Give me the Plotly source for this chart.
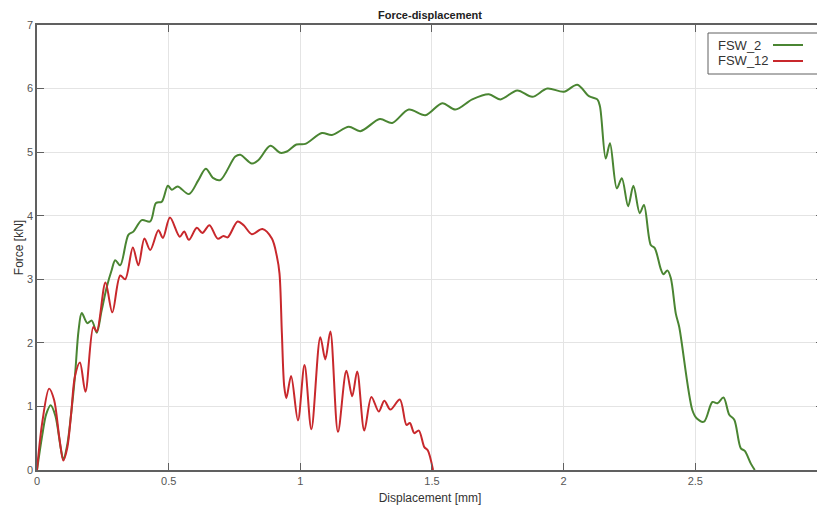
import plotly.graph_objects as go

# FSW_2 (green) force-displacement readings
fsw2_x = [0, 0.02, 0.035, 0.052, 0.07, 0.09, 0.10, 0.115, 0.13, 0.144, 0.158, 0.17, 0.191, 0.208, 0.227,
          0.245, 0.265, 0.284, 0.297, 0.316, 0.347, 0.366, 0.398, 0.43, 0.452, 0.474, 0.497, 0.512, 0.534,
          0.577, 0.613, 0.641, 0.67, 0.696, 0.753, 0.772, 0.816, 0.842, 0.886, 0.924, 0.949, 0.985, 1.019,
          1.082, 1.12, 1.184, 1.228, 1.302, 1.349, 1.412, 1.475, 1.539, 1.589, 1.653, 1.716, 1.76, 1.824,
          1.881, 1.938, 2.001, 2.052, 2.096, 2.128, 2.138, 2.16, 2.176, 2.202, 2.221, 2.245, 2.265, 2.289,
          2.305, 2.331, 2.346, 2.369, 2.379, 2.394, 2.407, 2.426, 2.439, 2.489, 2.506, 2.533, 2.565, 2.584,
          2.607, 2.629, 2.648, 2.673, 2.688, 2.711, 2.726]
fsw2_y = [0, 0.55, 0.88, 1.02, 0.85, 0.35, 0.17, 0.4, 0.9, 1.47, 2.2, 2.47, 2.31, 2.35, 2.16,
          2.5, 2.88, 3.15, 3.30, 3.22, 3.70, 3.75, 3.93, 3.91, 4.20, 4.22, 4.47, 4.41, 4.46,
          4.34, 4.56, 4.74, 4.59, 4.56, 4.93, 4.96, 4.82, 4.88, 5.10, 4.99, 5.01, 5.12, 5.13,
          5.30, 5.27, 5.40, 5.33, 5.52, 5.46, 5.67, 5.58, 5.77, 5.67, 5.83, 5.91, 5.83, 5.97,
          5.87, 6.00, 5.95, 6.06, 5.88, 5.83, 5.72, 4.90, 5.14, 4.43, 4.59, 4.15, 4.47, 4.04,
          4.17, 3.54, 3.49, 3.16, 3.08, 3.14, 3.02, 2.46, 2.25, 0.94, 0.81, 0.76, 1.07, 1.05,
          1.14, 0.87, 0.79, 0.34, 0.30, 0.10, 0.0]

# FSW_12 (red) force-displacement readings
fsw12_x = [0, 0.02, 0.046, 0.065, 0.085, 0.10, 0.115, 0.13, 0.144, 0.163, 0.184, 0.214, 0.227, 0.26,
           0.286, 0.316, 0.335, 0.364, 0.385, 0.408, 0.43, 0.461, 0.478, 0.505, 0.542, 0.559, 0.577,
           0.607, 0.628, 0.655, 0.686, 0.708, 0.724, 0.762, 0.785, 0.816, 0.856, 0.892, 0.911, 0.921,
           0.93, 0.939, 0.947, 0.965, 0.991, 1.016, 1.042, 1.076, 1.095, 1.114, 1.143, 1.175, 1.197,
           1.216, 1.243, 1.27, 1.298, 1.319, 1.342, 1.378, 1.403, 1.416, 1.433, 1.45, 1.471, 1.484, 1.504]
fsw12_y = [0, 0.75, 1.28, 1.1, 0.5, 0.15, 0.35, 0.9, 1.47, 1.69, 1.23, 2.25, 2.18, 2.95,
           2.48, 3.06, 3.00, 3.50, 3.22, 3.64, 3.46, 3.77, 3.65, 3.97, 3.67, 3.75, 3.62,
           3.81, 3.73, 3.85, 3.64, 3.68, 3.66, 3.91, 3.85, 3.71, 3.79, 3.64, 3.36, 3.09,
           2.15, 1.31, 1.13, 1.48, 0.78, 1.65, 0.64, 2.09, 1.74, 2.18, 0.60, 1.56, 1.16,
           1.55, 0.62, 1.15, 0.92, 1.09, 0.95, 1.11, 0.71, 0.74, 0.58, 0.62, 0.36, 0.31, 0.0]

x_ticks = [0, 0.5, 1, 1.5, 2, 2.5]
x_tick_labels = ["0", "0.5", "1", "1.5", "2", "2.5"]
y_ticks = [0, 1, 2, 3, 4, 5, 6, 7]

GREEN = "#4a8532"
RED = "#c8282c"
FONT = "Liberation Sans, Arial, sans-serif"

# page has an 8px body margin: figure sized to fit the 825x506 window
W, H = 817, 498
OFF = 8
L, R, T, B = 37 - OFF, 2, 25 - OFF, H - (470 - OFF)
PW = W - L - R
PH = H - T - B

fig = go.Figure()
fig.add_trace(go.Scatter(x=fsw2_x, y=fsw2_y, mode="lines", name="FSW_2",
                         line=dict(color=GREEN, width=2, shape="spline", smoothing=0.9)))
fig.add_trace(go.Scatter(x=fsw12_x, y=fsw12_y, mode="lines", name="FSW_12",
                         line=dict(color=RED, width=2, shape="spline", smoothing=0.9)))

axis_common = dict(showline=True, linecolor="#606060", linewidth=1.5, mirror="ticks",
                   ticks="inside", ticklen=7, tickcolor="#606060", tickwidth=1,
                   showgrid=True, gridcolor="#e4e4e4", gridwidth=1, zeroline=False,
                   automargin=False,
                   tickfont=dict(family=FONT, size=11, color="#555555"))

fig.update_xaxes(range=[0, 2.985], tickvals=x_ticks, ticktext=x_tick_labels,
                 title=dict(text="Displacement [mm]", font=dict(family=FONT, size=12, color="#333333"),
                            standoff=8),
                 **axis_common)
fig.update_yaxes(range=[0, 7], tickvals=y_ticks,
                 title=dict(text="Force [kN]", font=dict(family=FONT, size=12, color="#333333"),
                            standoff=1),
                 **axis_common)


def px_x(page_x):
    return (page_x - 37) / PW


def px_y(page_y):
    return 1 - (page_y - 25) / PH


# custom legend (text left, line sample right)
shapes = [dict(type="rect", xref="paper", yref="paper", x0=px_x(708), x1=px_x(820),
               y0=px_y(74), y1=px_y(33),
               line=dict(color="#606060", width=1), fillcolor="white", layer="above")]
annotations = []
for name, color, py in [("FSW_2", GREEN, 45), ("FSW_12", RED, 61)]:
    annotations.append(dict(xref="paper", yref="paper", x=px_x(716), y=px_y(py), text=name,
                            showarrow=False, xanchor="left", yanchor="middle",
                            font=dict(family=FONT, size=13, color="#333333")))
    shapes.append(dict(type="line", xref="paper", yref="paper", x0=px_x(773), x1=px_x(803),
                       y0=px_y(py), y1=px_y(py), line=dict(color=color, width=2), layer="above"))

fig.update_layout(
    width=W, height=H,
    margin=dict(l=L, r=R, t=T, b=B, autoexpand=False),
    paper_bgcolor="white", plot_bgcolor="white",
    showlegend=False,
    title=dict(text="<b>Force-displacement</b>", x=(430 - OFF) / W, xanchor="center",
               y=1 - (15 - OFF) / H, yanchor="middle", automargin=False,
               font=dict(family=FONT, size=11, color="#222222")),
    shapes=shapes, annotations=annotations,
)

fig.write_html("out.html")
